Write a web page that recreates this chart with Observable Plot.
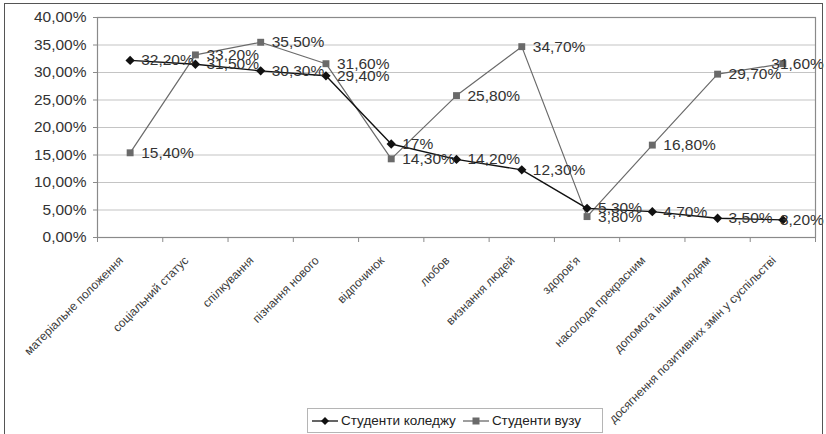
<!DOCTYPE html>
<html>
<head>
<meta charset="utf-8">
<script src="https://cdn.jsdelivr.net/npm/d3@7"></script>
<script src="https://cdn.jsdelivr.net/npm/@observablehq/plot@0.6"></script>
<style>
  body { margin: 0; background: #fff; }
  #wrap { position: relative; width: 826px; height: 434px; overflow: hidden; font-family: "Liberation Sans", Arial, sans-serif; }
  #frame { position: absolute; left: 4px; top: 3px; width: 819px; height: 440px; border: 1.5px solid #555; box-sizing: border-box; pointer-events: none; }
  #legend { position: absolute; left: 307px; top: 408px; width: 296px; height: 25px; border: 1px solid #b5b5b5; box-sizing: border-box; background: #fff; display: flex; align-items: center; font-size: 13.5px; color: #222; padding-left: 3px; white-space: nowrap; }
  #legend svg { margin-right: 2px; }
  #legend span { margin-right: 6px; }
</style>
</head>
<body>
<div id="wrap">
  <div id="chart"></div>
  <div id="legend"></div>
  <div id="frame"></div>
</div>
<script>
const categories = [
  "матеріальне положення",
  "соціальний статус",
  "спілкування",
  "пізнання нового",
  "відпочинок",
  "любов",
  "визнання людей",
  "здоров'я",
  "насолода прекрасним",
  "допомога іншим людям",
  "досягнення позитивних змін у суспільстві"
];
const college = [32.2, 31.5, 30.3, 29.4, 17, 14.2, 12.3, 5.3, 4.7, 3.5, 3.2];
const university = [15.4, 33.2, 35.5, 31.6, 14.3, 25.8, 34.7, 3.8, 16.8, 29.7, 31.6];
const seriesNames = ["Студенти коледжу", "Студенти вузу"];
const yTicks = [0, 5, 10, 15, 20, 25, 30, 35, 40];

const fmtPct = v => Number.isInteger(v) ? v + "%" : v.toFixed(2).replace(".", ",") + "%";

const rows = [];
categories.forEach((c, i) => {
  rows.push({cat: c, i, s: seriesNames[0], v: college[i]});
  rows.push({cat: c, i, s: seriesNames[1], v: university[i]});
});
const colRows = rows.filter(d => d.s === seriesNames[0]);
const uniRows = rows.filter(d => d.s === seriesNames[1]);
const last = categories.length - 1;

const FONT = "Liberation Sans, Arial, sans-serif";
const colColor = "#111";
const uniColor = "#6a6a6a";
const yFmt = d => d.toFixed(2).replace(".", ",") + "%";

const chart = Plot.plot({
  width: 826,
  height: 434,
  marginLeft: 97,
  marginRight: 11,
  marginTop: 17,
  marginBottom: 197,
  style: {fontFamily: FONT, fontSize: "15.5px", color: "#333", background: "transparent", overflow: "visible"},
  x: {domain: [0, categories.length], label: null},
  y: {domain: [0, 40], label: null},
  marks: [
    Plot.gridY(yTicks, {stroke: "#c4c4c4", strokeOpacity: 1, strokeWidth: 1.2}),
    Plot.frame({stroke: "#8a8a8a", strokeWidth: 1.2}),
    Plot.axisY({ticks: yTicks, tickSize: 4, tickPadding: 7, tickFormat: yFmt, stroke: "#8a8a8a", fontSize: 15.5, fill: "#333", label: null}),
    Plot.axisX({ticks: d3.range(0, categories.length + 1), tickSize: 5, tickFormat: () => "", stroke: "#8a8a8a", label: null}),
    Plot.text(categories, {
      x: (d, i) => i + 0.5, y: 0, text: d => d,
      rotate: -45, textAnchor: "end", dx: -9, dy: 21,
      fontSize: 12, fill: "#3a3a3a"
    }),
    Plot.line(uniRows, {x: d => d.i + 0.5, y: "v", stroke: uniColor, strokeWidth: 1.2}),
    Plot.line(colRows, {x: d => d.i + 0.5, y: "v", stroke: colColor, strokeWidth: 1.4}),
    Plot.dot(uniRows, {x: d => d.i + 0.5, y: "v", symbol: "square", r: 3.9, fill: uniColor, stroke: "none"}),
    Plot.dot(colRows, {x: d => d.i + 0.5, y: "v", symbol: "diamond2", r: 4.2, fill: colColor, stroke: "none"}),
    Plot.text(uniRows.filter(d => d.i !== last), {x: d => d.i + 0.5, y: "v", text: d => fmtPct(d.v), dx: 11, textAnchor: "start", fontSize: 15.5, fill: "#333"}),
    Plot.text(colRows.filter(d => d.i !== last), {x: d => d.i + 0.5, y: "v", text: d => fmtPct(d.v), dx: 11, textAnchor: "start", fontSize: 15.5, fill: "#333"}),
    Plot.text(uniRows.filter(d => d.i === last), {x: d => d.i + 0.5, y: "v", text: d => fmtPct(d.v), dx: 41, textAnchor: "end", fontSize: 15.5, fill: "#333"}),
    Plot.text(colRows.filter(d => d.i === last), {x: d => d.i + 0.5, y: "v", text: d => fmtPct(d.v), dx: 41, textAnchor: "end", fontSize: 15.5, fill: "#333"})
  ]
});
document.getElementById("chart").appendChild(chart);

// legend
const legend = document.getElementById("legend");
const swatch = (color, sym) => {
  const shape = sym === "diamond"
    ? `<path d="M14,2 L18,6 L14,10 L10,6 Z" fill="${color}"/>`
    : `<rect x="10.5" y="2.5" width="7" height="7" fill="${color}"/>`;
  return `<svg width="28" height="12" viewBox="0 0 28 12"><line x1="1" y1="6" x2="27" y2="6" stroke="${color}" stroke-width="1.3"/>${shape}</svg>`;
};
legend.innerHTML =
  swatch(colColor, "diamond") + `<span>${seriesNames[0]}</span>` +
  swatch(uniColor, "square") + `<span>${seriesNames[1]}</span>`;
</script>
</body>
</html>
